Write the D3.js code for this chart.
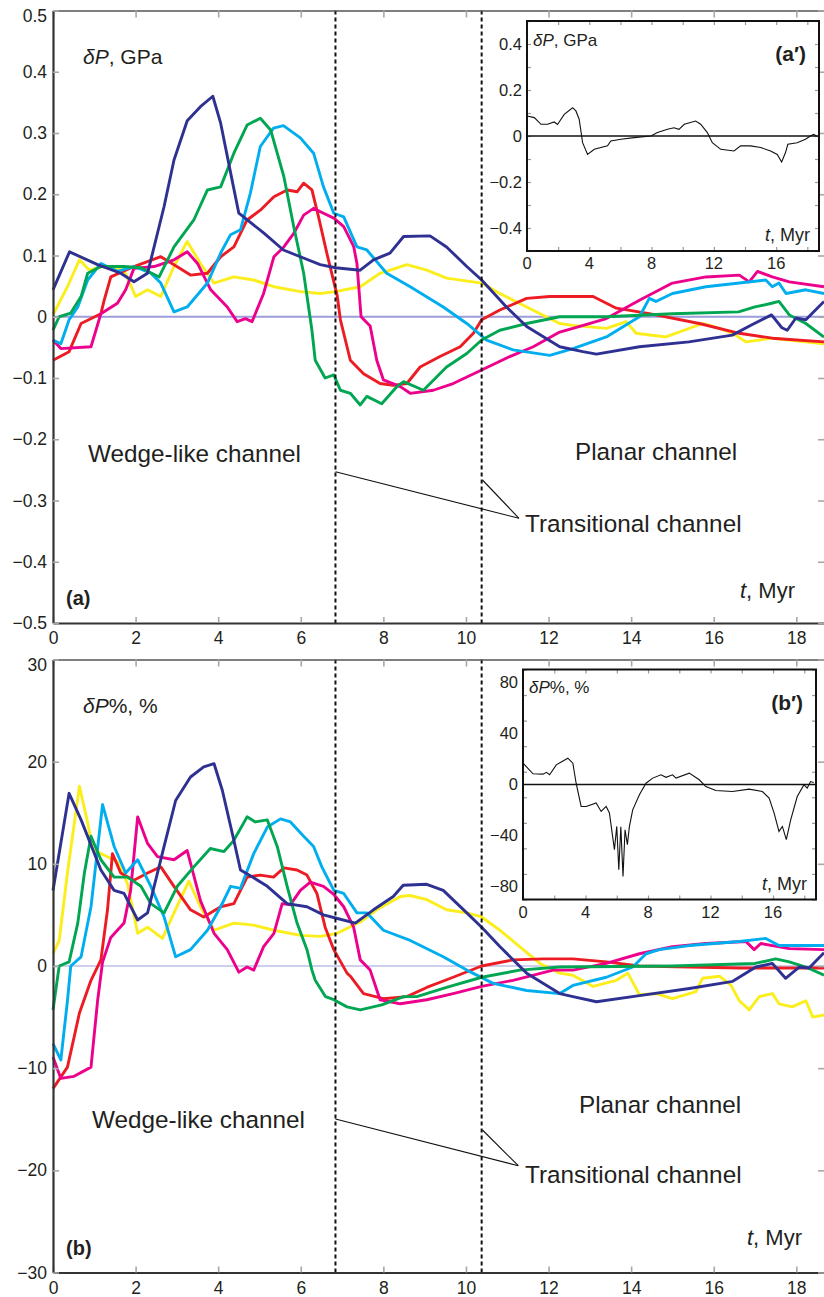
<!DOCTYPE html>
<html>
<head>
<meta charset="utf-8">
<script src="https://cdnjs.cloudflare.com/ajax/libs/d3/7.8.5/d3.min.js"></script>
<style>
  body { margin: 0; background: #fff; }
  svg { display: block; font-family: "Liberation Sans", Arial, Helvetica, sans-serif; }
</style>
</head>
<body>
<div id="chart"></div>
<script>
// time axis (Myr)
var tMax = 18.67;
var xTicks = [0, 2, 4, 6, 8, 10, 12, 14, 16, 18];
var channelBounds = [6.84, 10.38];

// panel (a): deltaP, GPa
var gpaTicks = [0.5, 0.4, 0.3, 0.2, 0.1, 0, -0.1, -0.2, -0.3, -0.4, -0.5];
var gpaNavy = [[0,0.044],[0.4,0.106],[1.08,0.085],[1.64,0.071],[1.96,0.057],[2.29,0.071],[2.69,0.18],[2.93,0.256],[3.25,0.32],[3.57,0.343],[3.87,0.36],[4.06,0.316],[4.37,0.212],[4.5,0.169],[4.78,0.154],[5.1,0.137],[5.58,0.109],[5.99,0.098],[6.47,0.085],[6.84,0.08],[7.44,0.076],[7.76,0.093],[8.16,0.104],[8.49,0.131],[9.13,0.132],[9.53,0.114],[10.02,0.082],[10.38,0.06],[10.98,0.016],[11.47,-0.016],[12.27,-0.049],[12.83,-0.057],[13.16,-0.061],[14.2,-0.049],[15.4,-0.041],[16.45,-0.03],[16.9,-0.014],[17.4,0.003],[17.65,-0.018],[17.78,-0.022],[17.99,-0.002],[18.23,-0.005],[18.67,0.025]];
var gpaGreen = [[0,-0.022],[0.15,0],[0.43,0.006],[0.68,0.033],[0.84,0.071],[1.16,0.082],[1.72,0.082],[2.13,0.08],[2.57,0.065],[2.93,0.114],[3.41,0.158],[3.74,0.207],[4.06,0.212],[4.38,0.267],[4.7,0.313],[5.02,0.324],[5.27,0.305],[5.59,0.229],[5.83,0.147],[6.07,0.071],[6.27,-0.022],[6.35,-0.071],[6.59,-0.1],[6.8,-0.095],[6.96,-0.12],[7.2,-0.125],[7.44,-0.144],[7.6,-0.13],[7.96,-0.142],[8.33,-0.114],[8.49,-0.106],[8.97,-0.12],[9.53,-0.082],[10.02,-0.06],[10.38,-0.038],[10.82,-0.022],[11.47,-0.011],[12.27,0],[13.4,0],[15.0,0.005],[16.6,0.008],[17.0,0.016],[17.4,0.022],[17.58,0.025],[17.83,0.003],[18.23,-0.011],[18.67,-0.033]];
var gpaCyan = [[0,-0.038],[0.19,-0.044],[0.39,-0.005],[0.6,0.016],[0.84,0.06],[1.16,0.087],[1.56,0.074],[1.96,0.082],[2.37,0.071],[2.61,0.055],[2.93,0.008],[3.25,0.016],[3.74,0.055],[4.06,0.104],[4.3,0.134],[4.54,0.142],[4.78,0.202],[5.02,0.278],[5.34,0.308],[5.58,0.312],[5.99,0.292],[6.31,0.267],[6.55,0.212],[6.8,0.169],[7.04,0.163],[7.36,0.114],[7.6,0.109],[8.08,0.071],[8.65,0.049],[9.45,0.016],[10.02,-0.011],[10.5,-0.038],[11.14,-0.054],[12.03,-0.063],[12.59,-0.052],[13.4,-0.033],[14.2,0],[14.44,0.03],[14.6,0.025],[15.0,0.038],[15.81,0.049],[16.62,0.055],[17.26,0.06],[17.42,0.049],[17.58,0.055],[17.75,0.038],[18.23,0.044],[18.67,0.038]];
var gpaRed = [[0,-0.071],[0.39,-0.057],[0.68,-0.011],[1.16,0.005],[1.24,0.027],[1.4,0.065],[1.96,0.082],[2.61,0.098],[2.93,0.085],[3.33,0.068],[3.74,0.071],[4.06,0.098],[4.38,0.114],[4.7,0.158],[5.02,0.174],[5.35,0.196],[5.67,0.207],[5.91,0.204],[6.07,0.218],[6.27,0.207],[6.43,0.163],[6.63,0.104],[6.88,0.035],[6.96,-0.005],[7.2,-0.071],[7.52,-0.093],[7.92,-0.109],[8.24,-0.112],[8.57,-0.109],[8.89,-0.082],[9.37,-0.065],[9.86,-0.049],[10.18,-0.027],[10.38,-0.005],[10.82,0.011],[11.47,0.03],[12.03,0.033],[13.08,0.033],[13.64,0.014],[14.44,0.005],[15.65,-0.011],[16.62,-0.027],[17.42,-0.035],[18.67,-0.041]];
var gpaMagenta = [[0,-0.038],[0.19,-0.052],[0.92,-0.049],[1.16,0.005],[1.56,0.022],[1.76,0.044],[1.96,0.079],[2.45,0.082],[2.93,0.093],[3.25,0.106],[3.5,0.087],[3.82,0.044],[4.22,0.016],[4.46,-0.008],[4.66,-0.003],[4.82,-0.008],[5.1,0.038],[5.35,0.098],[5.59,0.114],[5.83,0.136],[6.07,0.166],[6.31,0.177],[6.55,0.169],[6.8,0.161],[7.04,0.147],[7.28,0.115],[7.36,0.087],[7.46,0],[7.68,-0.015],[7.84,-0.071],[8.0,-0.103],[8.41,-0.114],[8.65,-0.125],[9.21,-0.12],[9.69,-0.109],[10.38,-0.087],[11.06,-0.065],[11.63,-0.049],[12.27,-0.025],[12.59,-0.019],[13.4,-0.003],[14.2,0.027],[15.0,0.055],[15.81,0.065],[16.62,0.068],[16.86,0.057],[17.06,0.074],[17.42,0.065],[17.83,0.057],[18.67,0.049]];
var gpaYellow = [[0,0.003],[0.35,0.049],[0.64,0.093],[0.88,0.076],[1.16,0.082],[1.72,0.076],[2.0,0.033],[2.29,0.044],[2.61,0.033],[2.93,0.082],[3.25,0.123],[3.57,0.087],[3.9,0.055],[4.38,0.065],[4.86,0.06],[5.35,0.049],[5.99,0.041],[6.47,0.038],[6.84,0.041],[7.44,0.049],[7.92,0.071],[8.57,0.085],[9.05,0.076],[9.53,0.063],[10.38,0.055],[10.82,0.038],[11.47,0.016],[12.27,-0.011],[12.59,-0.014],[13.4,-0.019],[13.88,-0.008],[14.12,-0.027],[14.84,-0.033],[15.73,-0.011],[16.14,-0.019],[16.46,-0.027],[16.78,-0.041],[17.42,-0.035],[18.67,-0.044]];

// panel (b): deltaP%, %
var pctTicks = [30, 20, 10, 0, -10, -20, -30];
var pctNavy = [[0,7.4],[0.39,16.9],[0.68,14.3],[1.16,9.4],[1.48,7.4],[1.72,7.1],[2.05,4.5],[2.29,5.2],[2.69,11.7],[2.97,16.2],[3.33,18.5],[3.65,19.5],[3.9,19.8],[4.1,17.2],[4.38,12.3],[4.54,9.4],[4.83,8.7],[5.19,7.8],[5.67,6.1],[6.15,5.8],[6.55,5.0],[6.84,4.7],[7.32,4.2],[7.76,5.5],[8.24,6.8],[8.48,7.9],[9.05,8.0],[9.45,7.4],[10.02,5.2],[10.38,3.8],[10.82,1.9],[11.47,-0.7],[12.27,-2.7],[12.59,-3.0],[13.16,-3.5],[14.2,-2.9],[15.41,-2.2],[16.46,-1.5],[17.02,-0.1],[17.42,0.25],[17.74,-1.2],[18.07,-0.1],[18.31,-0.2],[18.67,1.3]];
var pctGreen = [[0,-4.3],[0.15,0],[0.39,0.4],[0.6,4.2],[0.76,9.1],[0.92,12.7],[1.16,10.4],[1.48,8.7],[1.8,8.7],[2.13,7.8],[2.37,6.1],[2.69,5.2],[3.01,7.8],[3.41,9.7],[3.81,11.5],[4.14,11.2],[4.38,12.3],[4.7,14.6],[4.9,14.1],[5.19,14.3],[5.43,11.7],[5.67,7.8],[5.91,4.2],[6.15,1.6],[6.27,-0.4],[6.35,-1.4],[6.6,-3.0],[6.8,-3.3],[7.12,-4.0],[7.44,-4.3],[7.96,-3.8],[8.49,-3.0],[8.81,-3.0],[9.53,-2.1],[10.38,-1.1],[11.3,-0.4],[12.27,-0.1],[15.0,0],[17.0,0.25],[17.5,0.7],[17.83,0.4],[18.23,-0.1],[18.67,-0.9]];
var pctCyan = [[0,-7.6],[0.19,-9.2],[0.35,-3.4],[0.43,0],[0.68,0.9],[0.92,5.8],[1.2,15.8],[1.48,11.7],[1.76,9.1],[2.05,10.4],[2.37,7.8],[2.69,4.8],[2.97,0.9],[3.33,1.6],[3.74,3.5],[4.06,5.8],[4.3,7.8],[4.54,7.6],[4.86,11.0],[5.19,13.6],[5.51,14.4],[5.75,14.1],[6.07,12.7],[6.31,11.7],[6.51,9.7],[6.8,7.4],[7.04,7.1],[7.36,5.2],[7.6,5.2],[8.0,3.5],[8.65,2.5],[9.45,0.9],[10.02,-0.4],[10.66,-1.7],[11.47,-2.4],[12.27,-2.7],[12.59,-1.9],[13.4,-1.1],[14.04,-0.1],[14.36,1.2],[14.68,1.6],[15.41,2.0],[16.62,2.4],[17.26,2.7],[17.58,2.0],[18.67,2.0]];
var pctRed = [[0,-12.0],[0.35,-9.9],[0.64,-4.6],[0.92,-1.4],[1.16,0.6],[1.32,5.5],[1.44,11.0],[1.64,9.1],[1.96,8.4],[2.29,9.1],[2.61,9.7],[2.93,7.8],[3.33,5.5],[3.65,4.8],[4.06,5.8],[4.38,6.1],[4.7,8.7],[5.02,8.9],[5.34,8.7],[5.59,9.6],[5.91,9.4],[6.15,8.9],[6.39,7.1],[6.59,3.8],[6.8,1.6],[7.12,-0.7],[7.2,-1.0],[7.52,-2.7],[8.0,-3.2],[8.57,-3.0],[9.05,-2.1],[9.69,-1.1],[10.38,0],[11.14,0.6],[11.87,0.7],[12.59,0.7],[13.4,0.4],[14.2,0],[15.41,-0.1],[16.62,-0.2],[18.67,-0.2]];
var pctMagenta = [[0,-8.9],[0.19,-11.0],[0.51,-10.8],[0.92,-9.9],[1.08,-3.4],[1.2,0.4],[1.4,2.8],[1.72,4.2],[1.88,7.4],[2.05,14.6],[2.29,12.0],[2.53,10.7],[2.93,10.4],[3.25,11.3],[3.57,6.4],[3.9,3.2],[4.22,1.6],[4.5,-0.6],[4.7,-0.1],[4.86,-0.4],[5.1,1.9],[5.35,3.2],[5.55,6.1],[5.75,6.0],[5.99,7.4],[6.23,8.2],[6.55,7.8],[6.8,7.0],[7.04,5.8],[7.28,3.8],[7.44,0.6],[7.68,-0.4],[7.92,-3.3],[8.41,-3.7],[9.05,-3.3],[9.69,-2.7],[10.38,-2.0],[11.14,-1.4],[12.11,-0.4],[12.59,-0.4],[13.4,0.25],[14.2,1.2],[15.0,1.9],[15.81,2.2],[16.78,2.4],[16.98,1.6],[17.14,2.2],[17.83,1.7],[18.67,1.6]];
var pctYellow = [[0,1.2],[0.15,2.5],[0.35,9.1],[0.64,17.6],[0.84,14.0],[0.96,11.4],[1.32,10.7],[1.56,10.2],[1.8,8.1],[2.05,3.2],[2.29,3.8],[2.65,2.7],[2.93,5.2],[3.29,8.3],[3.57,5.8],[3.9,3.5],[4.38,4.2],[4.86,4.0],[5.35,3.5],[5.99,3.0],[6.47,2.9],[6.88,3.2],[7.44,4.3],[7.84,5.5],[8.41,6.8],[8.65,6.9],[9.05,6.5],[9.53,5.5],[10.02,5.2],[10.38,4.8],[10.82,3.5],[11.3,1.9],[11.79,0.25],[12.27,-0.7],[12.59,-0.9],[13.08,-2.0],[13.64,-1.4],[13.92,-0.7],[14.2,-2.8],[14.61,-2.7],[15.0,-3.2],[15.57,-2.5],[15.73,-1.2],[16.14,-1.0],[16.42,-1.9],[16.62,-3.4],[16.86,-4.3],[17.1,-3.0],[17.42,-2.7],[17.58,-3.7],[17.9,-4.0],[18.23,-3.4],[18.4,-5.0],[18.67,-4.8]];

// insets (a') and (b')
var insetXTicks = [0, 4, 8, 12, 16];
var insetGpaTicks = [0.4, 0.2, 0, -0.2, -0.4];
var insetPctTicks = [80, 40, 0, -40, -80];
var insetGpa = [[0,0.087],[0.47,0.08],[0.9,0.051],[1.32,0.051],[1.75,0.061],[1.96,0.05],[2.39,0.094],[2.93,0.123],[3.14,0.109],[3.35,0.073],[3.57,-0.029],[3.89,-0.08],[4.32,-0.058],[4.74,-0.05],[5.17,-0.043],[5.38,-0.022],[6.03,-0.014],[6.88,-0.007],[7.95,0],[8.38,0.015],[9.02,0.029],[9.44,0.036],[9.76,0.029],[10.1,0.051],[10.83,0.065],[11.15,0.051],[11.58,0.015],[11.9,-0.029],[12.44,-0.058],[13.29,-0.065],[13.72,-0.043],[14.36,-0.043],[15.0,-0.05],[15.64,-0.065],[16.07,-0.08],[16.35,-0.113],[16.6,-0.072],[16.75,-0.036],[17.35,-0.029],[17.88,-0.014],[18.2,0],[18.4,0.007],[18.6,0]];
var insetPct = [[0,16.7],[0.3,12.8],[0.64,8.4],[1.28,8.1],[1.5,9.5],[1.7,7.6],[2.13,15.4],[2.87,20.6],[3.19,16.7],[3.4,1.0],[3.72,-17.2],[4.04,-17.2],[4.68,-14.5],[5.0,-21.1],[5.32,-17.2],[5.53,-22.3],[5.85,-51],[6.0,-32.8],[6.13,-66.6],[6.26,-33],[6.4,-71.9],[6.53,-35.4],[6.68,-47.1],[6.81,-32.8],[7.02,-19.8],[7.45,-8.1],[7.87,1.0],[8.3,5.0],[8.83,7.6],[9.15,5.6],[9.57,7.6],[9.79,5.0],[10.64,8.9],[11.28,3.7],[11.7,-1.6],[12.34,-4.7],[13.4,-5.5],[14.47,-3.6],[15.32,-5.5],[15.75,-10.7],[16.07,-22.4],[16.38,-36.7],[16.6,-32.8],[16.85,-43.2],[17.13,-27.6],[17.55,-9.4],[17.98,-0.2],[18.19,-2.8],[18.4,2.3],[18.6,1.5]];

var colors = { navy: "#2e3192", green: "#00a651", cyan: "#00aeef", red: "#ed1c24", magenta: "#ec008c", yellow: "#fbee1c" };

var svg = d3.select("#chart").append("svg")
  .attr("width", 824)
  .attr("height", 1297);

var numFmt = function(d) { return d === 0 ? "0" : d3.format(".1f")(d); };
var intFmt = function(d) { return d3.format("d")(d); };

////////////////* MAIN PANEL *////////////////////
function drawPanel(cfg) {
  var g = svg.append("g");
  var x = d3.scaleLinear().domain([0, tMax]).range([53, 824]);
  var y = d3.scaleLinear().domain(cfg.yDomain).range([cfg.bottom, cfg.top]);

  // zero line
  g.append("line")
    .attr("x1", x(0)).attr("x2", x(tMax))
    .attr("y1", y(0)).attr("y2", y(0))
    .style("stroke", "#9d9ddb")
    .style("stroke-width", cfg.zeroWidth);

  var line = d3.line()
    .x(function(d) { return x(d[0]); })
    .y(function(d) { return y(d[1]); });

  g.selectAll(".series")
    .data(cfg.series)
    .enter()
    .append("path")
      .attr("class", "series")
      .attr("d", function(d) { return line(d.values); })
      .style("fill", "none")
      .style("stroke", function(d) { return d.color; })
      .style("stroke-width", 2.9)
      .style("stroke-linejoin", "round");

  // channel boundaries
  g.selectAll(".bound")
    .data(channelBounds)
    .enter()
    .append("line")
      .attr("class", "bound")
      .attr("x1", function(d) { return x(d); })
      .attr("x2", function(d) { return x(d); })
      .attr("y1", cfg.top).attr("y2", cfg.bottom)
      .style("stroke", "#111")
      .style("stroke-width", 2)
      .style("stroke-dasharray", "4,3");

  // axes
  var bottomAxis = g.append("g")
    .attr("transform", "translate(0," + cfg.bottom + ")")
    .call(d3.axisBottom(x).tickValues(xTicks).tickSize(-6).tickSizeOuter(0).tickPadding(9));
  var topAxis = g.append("g")
    .attr("transform", "translate(0," + cfg.top + ")")
    .call(d3.axisTop(x).tickValues(xTicks).tickSize(-7).tickSizeOuter(0).tickFormat(""));
  var leftAxis = g.append("g")
    .attr("transform", "translate(53,0)")
    .call(d3.axisLeft(y).tickValues(cfg.yTicks).tickSize(-6).tickSizeOuter(0).tickPadding(6).tickFormat(cfg.fmt));
  var rightAxis = g.append("g")
    .attr("transform", "translate(824,0)")
    .call(d3.axisRight(y).tickValues(cfg.yTicks).tickSize(-6).tickSizeOuter(0).tickFormat(""));
  rightAxis.select(".domain").remove();

  [bottomAxis, topAxis, leftAxis, rightAxis].forEach(function(a) {
    a.selectAll(".tick line").style("stroke", "#a8a8a8").style("stroke-width", 1.6);
    a.selectAll(".tick text")
      .style("font-size", "17.5px")
      .style("fill", "#231f20")
      .style("font-family", "'Liberation Sans', Arial, sans-serif");
  });
  bottomAxis.select(".domain").style("stroke", "#333").style("stroke-width", 2.2);
  leftAxis.select(".domain").style("stroke", "#333").style("stroke-width", 2.2);
  topAxis.select(".domain").style("stroke", "#555").style("stroke-width", 1.4);

  // nudge the top label down a little, as in the original
  leftAxis.selectAll(".tick text")
    .filter(function(d) { return d === cfg.yDomain[1]; })
    .attr("dy", "0.65em");

  // annotations
  var lab = g.append("text")
    .attr("x", 83).attr("y", cfg.top + 53)
    .style("font-size", "21px").style("fill", "#231f20");
  lab.append("tspan").style("font-style", "italic").text("\u03b4P");
  lab.append("tspan").text(cfg.unit);

  var textStyle = function(sel, size) {
    sel.style("font-size", size).style("fill", "#231f20");
  };
  g.append("text").attr("x", cfg.wedge[0]).attr("y", cfg.wedge[1]).text("Wedge-like channel").call(textStyle, "24.3px");
  g.append("text").attr("x", cfg.planar[0]).attr("y", cfg.planar[1]).text("Planar channel").call(textStyle, "24.3px");
  g.append("text").attr("x", cfg.trans[0]).attr("y", cfg.trans[1]).text("Transitional channel").call(textStyle, "24.3px");

  g.selectAll(".leader")
    .data(cfg.leaders)
    .enter()
    .append("line")
      .attr("class", "leader")
      .attr("x1", function(d) { return x(d[0]); })
      .attr("y1", function(d) { return d[1]; })
      .attr("x2", cfg.joint[0])
      .attr("y2", cfg.joint[1])
      .style("stroke", "#111")
      .style("stroke-width", 1.1);

  g.append("text").attr("x", 66).attr("y", cfg.panelLabel[1]).text(cfg.panelLabel[0])
    .style("font-size", "20px").style("font-weight", "bold").style("fill", "#231f20");

  var tl = g.append("text").attr("x", cfg.tLabel[0]).attr("y", cfg.tLabel[1])
    .attr("text-anchor", "end").style("font-size", "22px").style("fill", "#231f20");
  tl.append("tspan").style("font-style", "italic").text("t");
  tl.append("tspan").text(", Myr");
}

////////////////* INSET *////////////////////
function drawInset(cfg) {
  var g = svg.append("g");
  var x = d3.scaleLinear().domain([0, 18.75]).range([cfg.left, cfg.right]);
  var y = d3.scaleLinear().domain(cfg.yDomain).range([cfg.bottom, cfg.top]);

  g.append("rect")
    .attr("x", cfg.left).attr("y", cfg.top)
    .attr("width", cfg.right - cfg.left).attr("height", cfg.bottom - cfg.top)
    .style("fill", "#fff");

  var minorX = d3.range(0, 19, 2);
  var minorY = d3.range(cfg.yDomain[0], cfg.yDomain[1] + cfg.minorStep / 2, cfg.minorStep);

  var axes = [
    g.append("g").attr("transform", "translate(0," + cfg.bottom + ")")
      .call(d3.axisBottom(x).tickValues(minorX).tickSize(-4).tickSizeOuter(0).tickFormat("")),
    g.append("g").attr("transform", "translate(0," + cfg.top + ")")
      .call(d3.axisTop(x).tickValues(minorX).tickSize(-4).tickSizeOuter(0).tickFormat("")),
    g.append("g").attr("transform", "translate(" + cfg.left + ",0)")
      .call(d3.axisLeft(y).tickValues(minorY).tickSize(-4).tickSizeOuter(0).tickFormat("")),
    g.append("g").attr("transform", "translate(" + cfg.right + ",0)")
      .call(d3.axisRight(y).tickValues(minorY).tickSize(-4).tickSizeOuter(0).tickFormat(""))
  ];
  axes.forEach(function(a) {
    a.select(".domain").remove();
    a.selectAll(".tick line").style("stroke", "#999").style("stroke-width", 1.2);
  });

  g.selectAll(".ixlab")
    .data(insetXTicks)
    .enter()
    .append("text")
      .attr("class", "ixlab")
      .attr("x", function(d) { return x(d); })
      .attr("y", cfg.bottom + 18)
      .attr("text-anchor", "middle")
      .style("font-size", "16.5px").style("fill", "#231f20")
      .text(function(d) { return d; });

  g.selectAll(".iylab")
    .data(cfg.yTicks)
    .enter()
    .append("text")
      .attr("class", "iylab")
      .attr("x", cfg.left - 5)
      .attr("y", function(d) { return y(d); })
      .attr("dy", "0.35em")
      .attr("text-anchor", "end")
      .style("font-size", "16.5px").style("fill", "#231f20")
      .text(cfg.fmt);

  g.append("line")
    .attr("x1", cfg.left).attr("x2", cfg.right)
    .attr("y1", y(0)).attr("y2", y(0))
    .style("stroke", "#111").style("stroke-width", 1.3);

  var line = d3.line()
    .x(function(d) { return x(d[0]); })
    .y(function(d) { return y(d[1]); });

  g.append("path")
    .attr("d", line(cfg.values))
    .style("fill", "none")
    .style("stroke", "#111")
    .style("stroke-width", 1.1);

  g.append("rect")
    .attr("x", cfg.left).attr("y", cfg.top)
    .attr("width", cfg.right - cfg.left).attr("height", cfg.bottom - cfg.top)
    .style("fill", "none").style("stroke", "#111").style("stroke-width", 2);

  var lab = g.append("text")
    .attr("x", cfg.left + 6).attr("y", cfg.top + cfg.labelDy)
    .style("font-size", "17px").style("fill", "#231f20");
  lab.append("tspan").style("font-style", "italic").text("\u03b4P");
  lab.append("tspan").text(cfg.unit);

  g.append("text")
    .attr("x", cfg.right - 13).attr("y", cfg.top + cfg.tagDy)
    .attr("text-anchor", "end")
    .style("font-size", "21px").style("font-weight", "bold").style("fill", "#231f20")
    .text(cfg.tag);

  var tl = g.append("text").attr("x", cfg.right - 9).attr("y", cfg.bottom - 10)
    .attr("text-anchor", "end").style("font-size", "18px").style("fill", "#231f20");
  tl.append("tspan").style("font-style", "italic").text("t");
  tl.append("tspan").text(", Myr");
}

drawPanel({
  top: 10.5, bottom: 623, yDomain: [-0.5, 0.5], yTicks: gpaTicks, fmt: numFmt, zeroWidth: 2,
  unit: ", GPa",
  series: [
    { color: colors.yellow, values: gpaYellow },
    { color: colors.red, values: gpaRed },
    { color: colors.magenta, values: gpaMagenta },
    { color: colors.cyan, values: gpaCyan },
    { color: colors.green, values: gpaGreen },
    { color: colors.navy, values: gpaNavy }
  ],
  wedge: [88, 462], planar: [575, 460], trans: [525, 532],
  leaders: [[6.84, 471.7], [10.4, 480]], joint: [519, 518.3],
  panelLabel: ["(a)", 605], tLabel: [795, 598]
});

drawPanel({
  top: 659.5, bottom: 1272.5, yDomain: [-30, 30], yTicks: pctTicks, fmt: intFmt, zeroWidth: 1.2,
  unit: "%, %",
  series: [
    { color: colors.yellow, values: pctYellow },
    { color: colors.red, values: pctRed },
    { color: colors.magenta, values: pctMagenta },
    { color: colors.cyan, values: pctCyan },
    { color: colors.green, values: pctGreen },
    { color: colors.navy, values: pctNavy }
  ],
  wedge: [92, 1128], planar: [579, 1113], trans: [525, 1183],
  leaders: [[6.84, 1119], [10.4, 1130]], joint: [518.3, 1165.7],
  panelLabel: ["(b)", 1255], tLabel: [802, 1245]
});

drawInset({
  left: 527, right: 819, top: 21, bottom: 251, yDomain: [-0.5, 0.5], minorStep: 0.1,
  yTicks: insetGpaTicks, fmt: numFmt, values: insetGpa,
  unit: ", GPa", labelDy: 25, tag: "(a\u2032)", tagDy: 40
});

drawInset({
  left: 523, right: 816, top: 669.5, bottom: 899.5, yDomain: [-90, 90], minorStep: 20,
  yTicks: insetPctTicks, fmt: intFmt, values: insetPct,
  unit: "%, %", labelDy: 23, tag: "(b\u2032)", tagDy: 40
});
</script>
</body>
</html>
